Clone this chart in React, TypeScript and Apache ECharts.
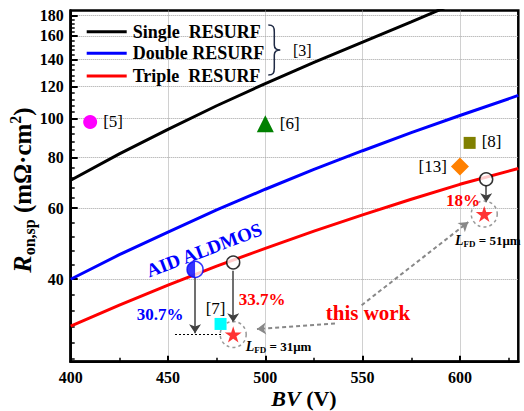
import React, { useEffect, useRef } from "react";
import * as echarts from "echarts";

const FONT = "'Liberation Serif', 'Times New Roman', serif";
const LFONT = "Liberation Serif";

// ---- data ----
const singleBV = [400, 425, 450, 475, 500, 525, 550, 575, 600];
const singleRon = [70.3, 81.7, 94, 107.5, 122, 137.6, 154.4, 173.5, 195];
const doubleBV = [400, 425, 450, 475, 500, 525, 550, 575, 600, 630];
const doubleRon = [40, 46, 52.3, 59.4, 66.8, 74.8, 83.2, 92.2, 101.7, 114];
const tripleBV = [400, 425, 450, 475, 500, 525, 550, 575, 600, 630];
const tripleRon = [30.6, 34.5, 38.7, 43.1, 47.7, 52.6, 57.7, 63.1, 68.7, 75.2];
const seriesNames = ["Single  RESURF", "Double RESURF", "Triple  RESURF"];
const seriesColors = ["#000000", "#0000ff", "#ff0000"];

const refLabels = ["[5]", "[6]", "[7]", "[8]", "[13]"];
const refBV = [410, 500, 477, 605, 600];
const refRon = [98, 97, 31, 87, 76];

const convBV = [483.5, 613.5];
const convRon = [44, 70.7];
const workBV = [483.5, 612.5];
const workRon = [29.2, 58];
const aidBV = [463.9];
const aidRon = [42.3];
const aidReducedRon = [29.3];

const xMajorTicks = [400, 450, 500, 550, 600];
const xMinorTicks = [425, 475, 525, 575, 625];
const yMajorTicks = [40, 60, 80, 100, 120, 140, 160, 180];
const yMinorTicks: number[] = [];
for (let i = 0; i < yMajorTicks.length - 1; i++) {
  const a = yMajorTicks[i], b = yMajorTicks[i + 1];
  for (let k = 1; k < 5; k++) yMinorTicks.push(a * Math.pow(b / a, k / 5));
}
for (let k = 1; k <= 5; k++) yMinorTicks.push(40 / Math.pow(10, 0.0396 * k));

const BRACE_D =
  "M0,0 C5,0 6,2 6,7 L6,20 C6,23 8,25 12,25 C8,25 6,27 6,30 L6,43 C6,48 5,50 0,50";
echarts.graphic.registerShape("brace", echarts.graphic.extendPath(BRACE_D, {}));

const STAR =
  "path://M50,0 L61.2,34.5 L97.6,34.5 L68.2,55.9 L79.4,90.5 L50,69.1 L20.6,90.5 L31.8,55.9 L2.4,34.5 L38.8,34.5 Z";
const HALF = "path://M50,0 A50,50 0 0 0 50,100 Z";

const refStyles = [
  { symbol: "circle", size: 14, color: "#ff00ff", pos: "right", dist: 6, offset: [0, 0] },
  { symbol: "triangle", size: 17, color: "#008000", pos: "right", dist: 6, offset: [0, 0] },
  { symbol: "rect", size: 12, color: "#00ffff", pos: "top", dist: 1, offset: [-5, 0] },
  { symbol: "rect", size: 12, color: "#808000", pos: "right", dist: 6, offset: [0, -1] },
  { symbol: "diamond", size: 18, color: "#ff8000", pos: "left", dist: 4, offset: [0, 0] },
];

function buildOption() {
  const curves = [
    [singleBV, singleRon],
    [doubleBV, doubleRon],
    [tripleBV, tripleRon],
  ].map(([bv, ron], i) => ({
    type: "line",
    name: seriesNames[i],
    data: bv.map((x, j) => [x, ron[j]]),
    symbol: "none",
    lineStyle: { color: seriesColors[i], width: 3 },
    itemStyle: { color: seriesColors[i] },
    clip: true,
    z: 2,
  }));

  const refs = refLabels.map((lab, i) => ({
    type: "scatter",
    data: [[refBV[i], refRon[i]]],
    symbol: refStyles[i].symbol,
    symbolSize: refStyles[i].size,
    itemStyle: { color: refStyles[i].color, opacity: 1 },
    label: {
      show: true,
      formatter: "{t|" + lab + "}",
      position: refStyles[i].pos,
      distance: refStyles[i].dist,
      offset: refStyles[i].offset,
      fontFamily: LFONT,
      fontSize: 17,
      rich: { t: { fontFamily: LFONT, fontSize: 17, color: "#000" } },
    },
    z: 4,
  }));

  const arrowDark = {
    type: "lines",
    coordinateSystem: "cartesian2d",
    symbol: ["none", "arrow"],
    symbolSize: 9,
    lineStyle: { color: "#404040", width: 1.5, opacity: 1 },
    data: [
      { coords: [[aidBV[0], 40.6], [aidBV[0], aidReducedRon[0] + 0.1]] },
      { coords: [[convBV[0], 42.0], [convBV[0], 31.3]] },
      { coords: [[convBV[1], 68.2], [convBV[1], 62]] },
    ],
    z: 3,
  };
  const dotted = {
    type: "lines",
    coordinateSystem: "cartesian2d",
    symbol: ["none", "none"],
    lineStyle: { color: "#000", width: 1, type: [2, 2], opacity: 1 },
    data: [{ coords: [[453.6, aidReducedRon[0]], [478.3, aidReducedRon[0]]] }],
    z: 3,
  };
  const arrowGray = {
    type: "lines",
    coordinateSystem: "cartesian2d",
    symbol: ["none", "arrow"],
    symbolSize: 9,
    lineStyle: { color: "#888888", width: 2, type: [4, 3], opacity: 1 },
    data: [
      { coords: [[535.8, 31.1], [495.7, 30.1]] },
      { coords: [[549.5, 34.5], [604.3, 55.4]] },
    ],
    z: 3,
  };

  const dashedCircles = {
    type: "scatter",
    data: workBV.map((x, i) => [x, workRon[i]]),
    symbol: "circle",
    symbolSize: 26,
    itemStyle: { color: "rgba(0,0,0,0)", borderColor: "#808080", borderWidth: 1.5, borderType: [3, 3] },
    z: 3,
  };
  const stars = {
    type: "scatter",
    data: workBV.map((x, i) => [x, workRon[i]]),
    symbol: STAR,
    symbolSize: 17,
    symbolKeepAspect: true,
    itemStyle: { color: "#ff0000" },
    z: 5,
  };
  const openCircles = {
    type: "scatter",
    data: convBV.map((x, i) => [x, convRon[i]]),
    symbol: "circle",
    symbolSize: 13,
    itemStyle: { color: "#ffffff", borderColor: "#000", borderWidth: 1.5 },
    z: 5,
  };
  const aidCircle = {
    type: "scatter",
    data: aidBV.map((x, i) => [x, aidRon[i]]),
    symbol: "circle",
    symbolSize: 16,
    itemStyle: { color: "#ffffff", borderColor: "#0000ff", borderWidth: 1.5 },
    z: 5,
  };
  const aidHalf = {
    type: "scatter",
    data: aidBV.map((x, i) => [x, aidRon[i]]),
    symbol: HALF,
    symbolSize: [8, 16],
    symbolOffset: [-4, 0],
    itemStyle: { color: "#0000ff" },
    z: 6,
  };

  const bold = (size: number, color = "#000") => ({
    fontFamily: FONT,
    fontWeight: "bold",
    fontSize: size,
    fill: color,
  });

  const legendRowsY = [31.7, 53.3, 76];
  const legendGraphic = seriesNames.flatMap((name, i) => [
    {
      type: "line",
      shape: { x1: 86.7, y1: legendRowsY[i], x2: 126.7, y2: legendRowsY[i] },
      style: { stroke: seriesColors[i], lineWidth: 3 },
      z: 10,
    },
    {
      type: "text",
      x: 132.7,
      y: legendRowsY[i],
      style: { text: name, ...bold(18), align: "left", verticalAlign: "middle" },
      z: 10,
    },
  ]);

  const graphic = [
    ...legendGraphic,
    {
      type: "brace",
      x: 268.3,
      y: 25,
      style: { stroke: "#1f2a44", fill: "none", lineWidth: 1.5 },
      z: 10,
    },
    {
      type: "text",
      x: 293,
      y: 50,
      style: { text: "[3]", fontFamily: FONT, fontSize: 16, fill: "#000", align: "left", verticalAlign: "middle" },
      z: 10,
    },
    {
      type: "text",
      x: 204,
      y: 250,
      rotation: 0.36,
      style: { text: "AID ALDMOS", ...bold(19, "#0000ff"), align: "center", verticalAlign: "middle" },
      z: 10,
    },
    {
      type: "text",
      x: 160,
      y: 314,
      style: { text: "30.7%", ...bold(17, "#0000ff"), align: "center", verticalAlign: "middle" },
      z: 10,
    },
    {
      type: "text",
      x: 262,
      y: 299,
      style: { text: "33.7%", ...bold(17, "#ff0000"), align: "center", verticalAlign: "middle" },
      z: 10,
    },
    {
      type: "text",
      x: 463,
      y: 200.7,
      style: { text: "18%", ...bold(17, "#ff0000"), align: "center", verticalAlign: "middle" },
      z: 10,
    },
    {
      type: "text",
      x: 368,
      y: 313,
      style: { text: "this work", ...bold(21, "#ff0000"), align: "center", verticalAlign: "middle" },
      z: 10,
    },
    ...[
      [245.7, 346, "31"],
      [455, 240, "51"],
    ].map(([x, y, v]) => ({
      type: "text",
      x,
      y,
      style: {
        text: `{i|L}{s|FD}{n| = ${v}\u03bcm}`,
        align: "left",
        verticalAlign: "middle",
        fill: "#000",
        rich: {
          i: { fontFamily: FONT, fontWeight: "bold", fontStyle: "italic", fontSize: 14, lineHeight: 16 },
          s: { fontFamily: FONT, fontWeight: "bold", fontSize: 9, lineHeight: 10, verticalAlign: "bottom" },
          n: { fontFamily: FONT, fontWeight: "bold", fontSize: 13, lineHeight: 16 },
        },
      },
      z: 10,
    })),
    {
      type: "text",
      x: 304,
      y: 398,
      style: {
        text: "{i|BV}{n| (V)}",
        align: "center",
        verticalAlign: "middle",
        fill: "#000",
        rich: {
          i: { fontFamily: FONT, fontWeight: "bold", fontStyle: "italic", fontSize: 22 },
          n: { fontFamily: FONT, fontWeight: "bold", fontSize: 22 },
        },
      },
    },
    {
      type: "text",
      x: 22,
      y: 190,
      rotation: Math.PI / 2,
      style: {
        text: "{i|R}{s|on,sp}{n| (m\u03a9\u00b7cm}{p|2}{n|)}",
        align: "center",
        verticalAlign: "middle",
        fill: "#000",
        rich: {
          i: { fontFamily: FONT, fontWeight: "bold", fontStyle: "italic", fontSize: 26, lineHeight: 30 },
          s: { fontFamily: FONT, fontWeight: "bold", fontSize: 16, lineHeight: 16, verticalAlign: "bottom" },
          n: { fontFamily: FONT, fontWeight: "bold", fontSize: 25, lineHeight: 30 },
          p: { fontFamily: FONT, fontWeight: "bold", fontSize: 16, lineHeight: 16, verticalAlign: "top" },
        },
      },
    },
  ];

  const gridLine = { show: true, lineStyle: { type: "dotted", color: "#a0a0a0", width: 1 } };
  const tickRich = { t: { fontFamily: LFONT, fontWeight: "bold", fontSize: 16, color: "#000" } };
  const tickLabel = { fontFamily: LFONT, fontWeight: "bold", fontSize: 16, color: "#000", rich: tickRich };

  return {
    animation: false,
    backgroundColor: "#ffffff",
    textStyle: { fontFamily: LFONT },
    grid: {
      left: 70.7,
      right: 5.7,
      top: 10.5,
      bottom: 49.3,
      show: true,
      borderColor: "#000",
      borderWidth: 2.5,
      backgroundColor: "rgba(0,0,0,0)",
    },
    xAxis: [
      {
        type: "value",
        min: 400,
        max: 630,
        position: "bottom",
        axisLine: { show: true, onZero: false, lineStyle: { color: "#000", width: 2.5 } },
        axisTick: { show: true, inside: true, length: 6, customValues: xMajorTicks, lineStyle: { color: "#000", width: 2 } },
        axisLabel: {
          show: true,
          customValues: xMajorTicks,
          margin: 8,
          formatter: (v: number) => "{t|" + Math.round(v) + "}",
          ...tickLabel,
        },
        splitLine: gridLine,
      },
      {
        type: "value",
        min: 400,
        max: 630,
        position: "bottom",
        axisLine: { show: false, onZero: false },
        axisTick: { show: true, inside: true, length: 4, customValues: xMinorTicks, lineStyle: { color: "#000", width: 1.5 } },
        axisLabel: { show: false },
        splitLine: { show: false },
      },
    ],
    yAxis: [
      {
        type: "log",
        logBase: 10,
        min: 25,
        max: 185,
        position: "left",
        axisLine: { show: true, onZero: false, lineStyle: { color: "#000", width: 2.5 } },
        axisTick: { show: true, inside: true, length: 7, customValues: yMajorTicks, lineStyle: { color: "#000", width: 2 } },
        axisLabel: {
          show: true,
          customValues: yMajorTicks,
          margin: 7,
          formatter: (v: number) => "{t|" + Math.round(v) + "}",
          ...tickLabel,
        },
        splitLine: gridLine,
        minorTick: { show: false },
      },
      {
        type: "log",
        logBase: 10,
        min: 25,
        max: 185,
        position: "left",
        axisLine: { show: false, onZero: false },
        axisTick: { show: true, inside: true, length: 4, customValues: yMinorTicks, lineStyle: { color: "#000", width: 1.5 } },
        axisLabel: { show: false },
        splitLine: { show: false },
      },
    ],
    series: [
      ...curves,
      dotted,
      arrowDark,
      arrowGray,
      ...refs,
      dashedCircles,
      openCircles,
      aidCircle,
      aidHalf,
      stars,
    ],
    graphic,
  };
}

export default function App() {
  const ref = useRef<HTMLDivElement>(null);
  useEffect(() => {
    const chart = echarts.init(ref.current!, null, { renderer: "svg" });
    chart.setOption(buildOption() as any);
    return () => chart.dispose();
  }, []);
  return (
    <div
      ref={ref}
      style={{ position: "fixed", left: 0, top: 0, width: 524, height: 411 }}
    />
  );
}
